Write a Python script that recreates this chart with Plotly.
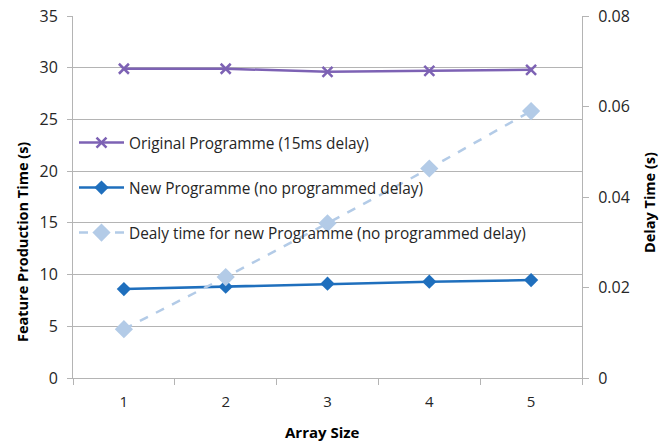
import plotly.graph_objects as go

# Array sizes on the category axis
array_sizes = ["1", "2", "3", "4", "5"]

# Feature production time (s), left axis
original_programme = [29.9, 29.9, 29.6, 29.7, 29.8]
new_programme = [8.6, 8.83, 9.12, 9.31, 9.47]

# Delay time for the new programme (s), right axis
delay_new_programme = [0.0108, 0.0223, 0.0342, 0.0463, 0.059]

FONT = "Open Sans"
TXT = "#262626"
GRID = "#b4b4b4"

fig = go.Figure()

fig.add_trace(go.Scatter(
    x=array_sizes, y=original_programme,
    name="Original Programme (15ms delay)",
    mode="lines+markers",
    line=dict(color="#7d62b4", width=2.5),
    marker=dict(symbol="x-thin", size=10, line=dict(color="#7d62b4", width=2.5)),
    legendgroup="a",
))
fig.add_trace(go.Scatter(
    x=array_sizes, y=new_programme,
    name="New Programme (no programmed delay)",
    mode="lines+markers",
    line=dict(color="#1f6fbd", width=2.5),
    marker=dict(symbol="diamond", size=11, color="#1f6fbd"),
    legendgroup="b",
))
fig.add_trace(go.Scatter(
    x=array_sizes, y=delay_new_programme,
    name="Dealy time for new Programme (no programmed delay)",
    mode="lines+markers",
    line=dict(color="#b3cbe7", width=2.5, dash="dash"),
    marker=dict(symbol="diamond", size=14, color="#b3cbe7"),
    yaxis="y2",
    legendgroup="c",
))

fig.update_layout(
    width=663, height=442,
    margin=dict(l=73, r=81, t=16, b=64, autoexpand=False),
    paper_bgcolor="white", plot_bgcolor="white",
    font=dict(family=FONT, size=14, color=TXT),
    showlegend=True,
    legend=dict(
        x=(74 - 73) / 509, y=(378 - 126) / 362, xanchor="left", yanchor="top",
        bgcolor="rgba(0,0,0,0)", font=dict(family=FONT, size=15.4, color=TXT),
        traceorder="grouped", tracegroupgap=22, itemwidth=45,
    ),
    xaxis=dict(
        type="category", range=[-0.5, 4.5], automargin=False,
        tickson="boundaries", ticks="outside", ticklen=6, tickcolor=GRID,
        showline=True, linecolor=GRID, linewidth=1,
        showgrid=False, zeroline=False,
        tickfont=dict(family=FONT, size=15, color=TXT),
        ticklabelstandoff=10,
    ),
    yaxis=dict(
        range=[0, 35], dtick=5, tick0=0, automargin=False,
        ticks="outside", ticklen=5, tickcolor=GRID,
        showline=True, linecolor=GRID, linewidth=1,
        showgrid=True, gridcolor=GRID, gridwidth=1, zeroline=False,
        tickfont=dict(family=FONT, size=16, color=TXT),
        ticklabelstandoff=6,
    ),
    yaxis2=dict(
        range=[0, 0.08], dtick=0.02, tick0=0, automargin=False,
        overlaying="y", side="right",
        ticks="outside", ticklen=6, tickcolor=GRID,
        showline=True, linecolor=GRID, linewidth=1,
        showgrid=False, zeroline=False,
        tickfont=dict(family=FONT, size=16, color=TXT),
        ticklabelstandoff=6,
    ),
    annotations=[
        dict(text="<b>Feature Production Time (s)</b>", textangle=-90,
             xref="paper", yref="paper", x=(22 - 73) / 509, y=(378 - 242) / 362,
             xanchor="center", yanchor="middle", showarrow=False,
             font=dict(family=FONT, size=14.5, color="#000")),
        dict(text="<b>Delay Time (s)</b>", textangle=-90,
             xref="paper", yref="paper", x=(649 - 73) / 509, y=(378 - 203) / 362,
             xanchor="center", yanchor="middle", showarrow=False,
             font=dict(family=FONT, size=14.5, color="#000")),
        dict(text="<b>Array Size</b>",
             xref="paper", yref="paper", x=(322 - 73) / 509, y=(378 - 432) / 362,
             xanchor="center", yanchor="middle", showarrow=False,
             font=dict(family=FONT, size=15, color="#000")),
    ],
)

fig.write_html("out.html")
